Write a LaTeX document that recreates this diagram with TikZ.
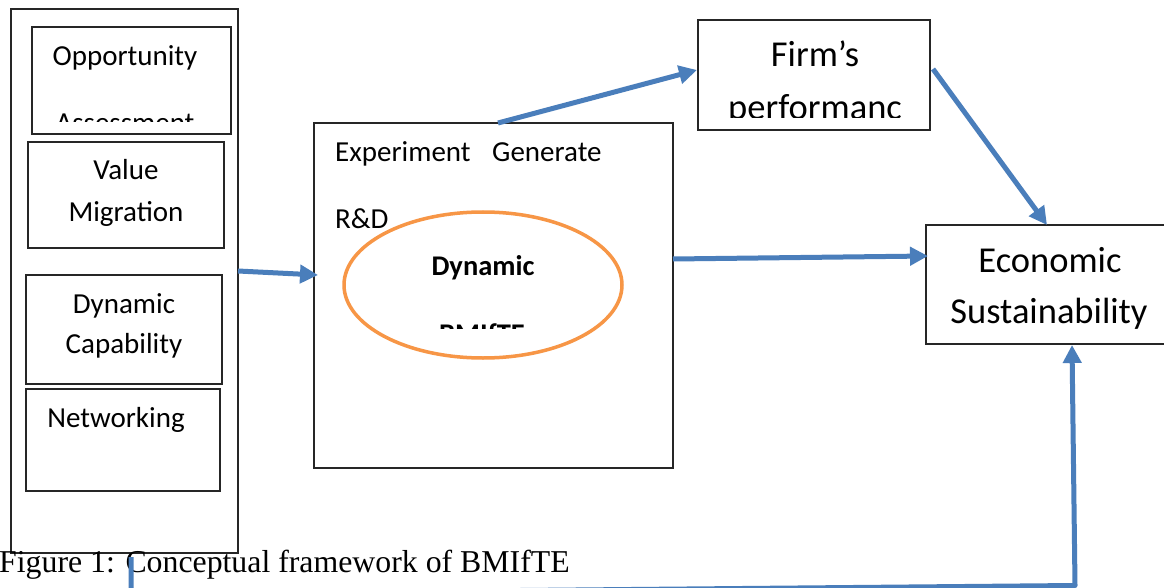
\documentclass[tikz,border=0pt]{standalone}
\usepackage{fontspec}
\setmainfont{Carlito}
\newfontfamily\capfont{Liberation Serif}
\usetikzlibrary{arrows.meta,shapes.geometric}
\definecolor{arrowblue}{RGB}{74,126,187}
\definecolor{ellorange}{RGB}{247,150,70}
\tikzset{
  box/.style={draw=black!85, line width=1.2pt, inner sep=0pt, rectangle, fill=white},
  lbl/.style={font=\fontsize{29}{35}\selectfont, inner sep=0pt, anchor=base},
  lblw/.style={font=\fontsize{29}{35}\selectfont, inner sep=0pt, anchor=base west},
  boldlbl/.style={font=\fontsize{28.5}{35}\selectfont\bfseries, inner sep=0pt, anchor=base},
  biglbl/.style={font=\fontsize{36.5}{44}\selectfont, inner sep=0pt, anchor=base},
  conn/.style={draw=arrowblue, line width=5pt, line join=round, -{Triangle[length=18pt,width=18pt]}},
}
\begin{document}
\begin{tikzpicture}[x=1pt,y=-1pt]
\clip (0,0) rectangle (1164,588);
\fill[white] (0,0) rectangle (1164,588);

% left column
\node[box, minimum width=227pt, minimum height=544pt] (outer) at (124.5,281) {};
\node[box, minimum width=199pt, minimum height=107pt] (opp) at (131.5,80.5) {};
\node[box, minimum width=196pt, minimum height=106pt] (val) at (126,195) {};
\node[box, minimum width=196pt, minimum height=109pt] (dyn) at (124,329.5) {};
\node[box, minimum width=194pt, minimum height=102pt] (net) at (123,440) {};

\node[lbl] (tOpp) at (125,66) {Opportunity};
\begin{scope}
  \clip (33,28) rectangle (230,122);
  \node[lbl] (tAss) at (125,133) {Assessment};
\end{scope}
\node[lbl] (tVal) at (126,180) {Value};
\node[lbl] (tMig) at (126,222) {Migration};
\node[lbl] (tDyn) at (124,313) {Dynamic};
\node[lbl] (tCap) at (124,353) {Capability};
\node[lbl] (tNet) at (116,427) {Networking};

% middle box
\node[box, minimum width=359pt, minimum height=345pt] (mid) at (493.5,295.5) {};
\node[lblw] (tExp) at (335,162) {Experiment};
\node[lblw] (tGen) at (492,162) {Generate};
\node[lblw] (tRD) at (335,228) {R\&D};

\node[ellipse, draw=ellorange, line width=3.5pt, fill=white, inner sep=0pt,
      minimum width=278pt, minimum height=146pt] (ell) at (483,285) {};
\node[boldlbl] (tDB) at (483,275) {Dynamic};
\begin{scope}
  \clip (400,300) rectangle (560,328);
  \node[boldlbl] (tBM) at (482,343) {BMIfTE};
\end{scope}

% firm's performance
\node[box, minimum width=232pt, minimum height=110pt] (firm) at (814,75) {};
\node[biglbl] (tFirm) at (815,67) {Firm’s};
\begin{scope}
  \clip (700,80) rectangle (928,118);
  \node[biglbl] (tPerf) at (815,120) {performanc};
\end{scope}

% economic sustainability
\node[box, minimum width=249pt, minimum height=119pt] (econ) at (1050.5,284.5) {};
\node[biglbl] (tEco) at (1050,272) {Economic};
\node[biglbl] (tSus) at (1049,323) {Sustainability};

% caption
\node[font=\capfont\fontsize{31.8}{36}\selectfont, inner sep=0pt, anchor=base west] (cap) at (-1,572) {Figure 1: Conceptual framework of BMIfTE};

% connector end points
\coordinate (a1s) at (238,271);
\coordinate (a1e) at (318,275);
\coordinate (a2s) at (498,123);
\coordinate (a2e) at (697,70);
\coordinate (a3s) at (933,69);
\coordinate (a3e) at (1047,225);
\coordinate (a4s) at (673,259);
\coordinate (a4e) at (928,256);
\coordinate (a5s) at (131,557);
\coordinate (a5b) at (131,594);
\coordinate (a5c) at (1075,585.5);
\coordinate (a5e) at (1072,345);

\draw[conn] (a1s) -- (a1e);
\draw[conn] (a2s) -- (a2e);
\draw[conn] (a3s) -- (a3e);
\draw[conn] (a4s) -- (a4e);
\draw[conn] (a5s) -- (a5b) -- (a5c) -- (a5e);
\end{tikzpicture}
\end{document}
